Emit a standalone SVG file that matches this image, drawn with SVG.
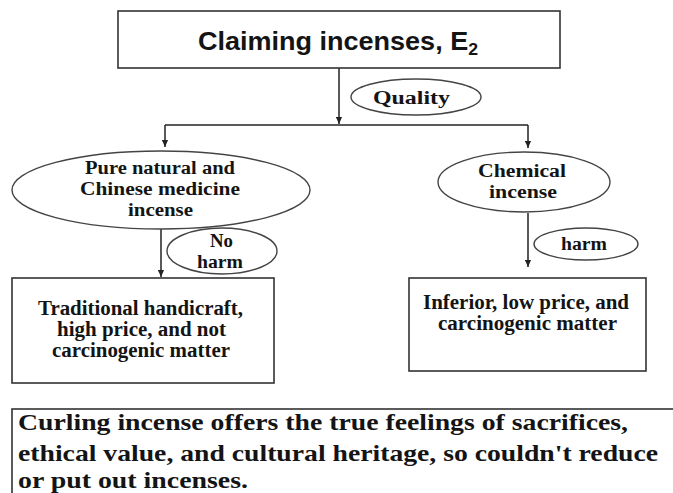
<svg xmlns="http://www.w3.org/2000/svg" width="673" height="493" viewBox="0 0 673 493">
<style>
.box{fill:#fff;stroke:#333;stroke-width:1.6}
.ell{fill:#fff;stroke:#444;stroke-width:1.4}
.conn{fill:none;stroke:#222;stroke-width:1.5}
.t{font-family:"Liberation Serif","Times New Roman",serif;font-weight:bold;fill:#141414}
.s{font-size:18px}
.b{font-size:20px}
.big{font-size:24px}
.title{font-family:"Liberation Sans",Arial,sans-serif;font-weight:bold;font-size:26px;fill:#141414}
</style>
<defs>
<marker id="arr" viewBox="0 0 8 8" refX="8" refY="4" markerWidth="7" markerHeight="7" markerUnits="userSpaceOnUse" orient="auto">
<path d="M0,0.5 L8,4 L0,7.5 z" fill="#222"/>
</marker>
</defs>
<rect width="673" height="493" fill="#fff"/>
<g id="connectors">
<path class="conn" d="M339,68 V124" marker-end="url(#arr)"/>
<path class="conn" d="M165,125 H528"/>
<path class="conn" d="M165,125 V147" marker-end="url(#arr)"/>
<path class="conn" d="M528,125 V148" marker-end="url(#arr)"/>
<path class="conn" d="M161,229 V277" marker-end="url(#arr)"/>
<path class="conn" d="M528,213 V267" marker-end="url(#arr)"/>
</g>
<g id="claiming">
<rect class="box" x="118" y="11" width="442" height="57"/>
<text class="title" x="198" y="50" textLength="280" lengthAdjust="spacingAndGlyphs">Claiming incenses, E<tspan font-size="17" dy="5">2</tspan></text>
</g>
<g id="quality">
<ellipse class="ell" cx="416" cy="97" rx="65" ry="18"/>
<text class="t s" x="373" y="104" textLength="77" lengthAdjust="spacingAndGlyphs">Quality</text>
</g>
<g id="pure-natural">
<ellipse class="ell" cx="161" cy="190" rx="149" ry="39"/>
<text class="t s" x="85" y="174" textLength="150" lengthAdjust="spacingAndGlyphs">Pure natural and</text>
<text class="t s" x="80" y="195" textLength="160" lengthAdjust="spacingAndGlyphs">Chinese medicine</text>
<text class="t s" x="128" y="216" textLength="65" lengthAdjust="spacingAndGlyphs">incense</text>
</g>
<g id="no-harm">
<ellipse class="ell" cx="222" cy="251" rx="55" ry="23"/>
<text class="t s" x="210" y="247" textLength="23" lengthAdjust="spacingAndGlyphs">No</text>
<text class="t s" x="197" y="268" textLength="46" lengthAdjust="spacingAndGlyphs">harm</text>
</g>
<g id="chemical">
<ellipse class="ell" cx="524" cy="182" rx="86" ry="30"/>
<text class="t s" x="478" y="177" textLength="88" lengthAdjust="spacingAndGlyphs">Chemical</text>
<text class="t s" x="489" y="198" textLength="68" lengthAdjust="spacingAndGlyphs">incense</text>
</g>
<g id="harm">
<ellipse class="ell" cx="586" cy="244" rx="52" ry="16"/>
<text class="t s" x="561" y="250" textLength="46" lengthAdjust="spacingAndGlyphs">harm</text>
</g>
<g id="traditional">
<rect class="box" x="12" y="278" width="262" height="105"/>
<text class="t b" x="38" y="315" textLength="205" lengthAdjust="spacingAndGlyphs">Traditional handicraft,</text>
<text class="t b" x="57" y="336" textLength="169" lengthAdjust="spacingAndGlyphs">high price, and not</text>
<text class="t b" x="52" y="357" textLength="178" lengthAdjust="spacingAndGlyphs">carcinogenic matter</text>
</g>
<g id="inferior">
<rect class="box" x="409" y="278" width="237" height="93"/>
<text class="t b" x="423" y="309" textLength="206" lengthAdjust="spacingAndGlyphs">Inferior, low price, and</text>
<text class="t b" x="438" y="330" textLength="179" lengthAdjust="spacingAndGlyphs">carcinogenic matter</text>
</g>
<g id="curling">
<rect class="box" x="12" y="409" width="700" height="120"/>
<text class="t big" x="18" y="430" textLength="610" lengthAdjust="spacingAndGlyphs">Curling  incense offers the true feelings of sacrifices,</text>
<text class="t big" x="18" y="461" textLength="640" lengthAdjust="spacingAndGlyphs">ethical value, and cultural heritage, so couldn't reduce</text>
<text class="t big" x="18" y="488" textLength="230" lengthAdjust="spacingAndGlyphs">or put out incenses.</text>
</g>
</svg>
